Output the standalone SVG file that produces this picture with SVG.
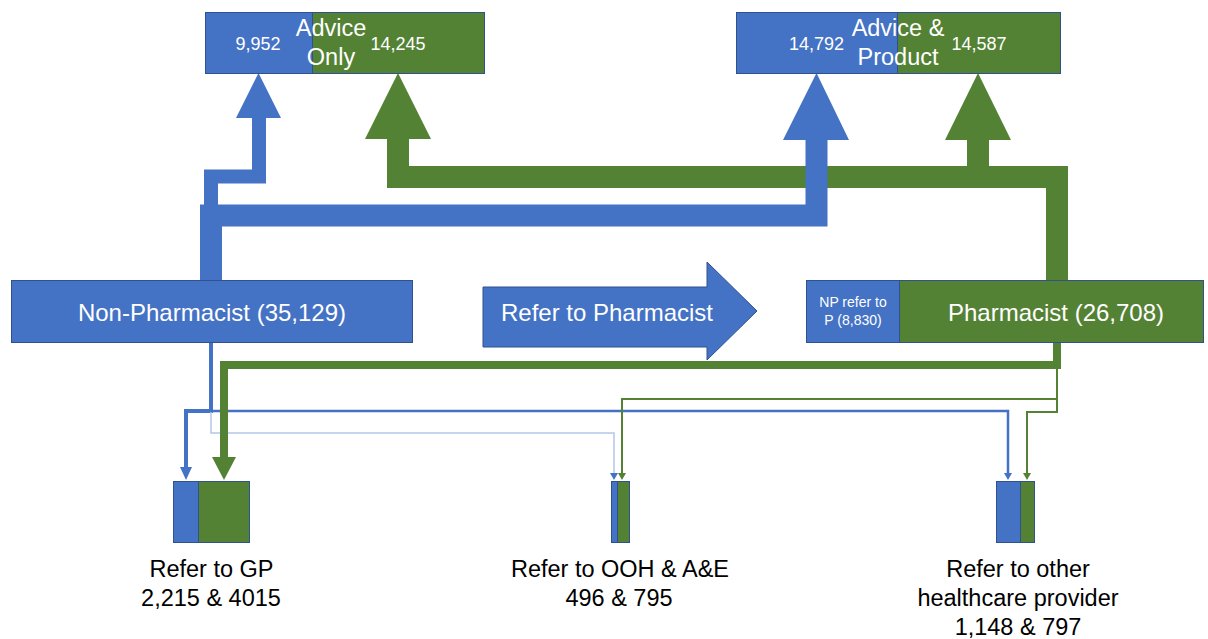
<svg xmlns="http://www.w3.org/2000/svg" width="1208" height="639" viewBox="0 0 1208 639">
<style>
.b{fill:#4472C4;stroke:#2F528F;stroke-width:1}
.g{fill:#548235;stroke:#2F528F;stroke-width:1}
.t{font-family:"Liberation Sans",Arial,sans-serif;fill:#fff;text-anchor:middle}
.k{font-family:"Liberation Sans",Arial,sans-serif;fill:#000;text-anchor:middle;font-size:23.5px}
.cb{fill:none;stroke:#4472C4;stroke-linejoin:miter;stroke-linecap:butt}
.cg{fill:none;stroke:#548235;stroke-linejoin:miter;stroke-linecap:butt}
.cl{fill:none;stroke:#B4C7E7;stroke-width:1.5}
.hb{fill:#4472C4}
.hg{fill:#548235}
</style>
<rect width="1208" height="639" fill="#fff"/>
<g id="connectors">
  <!-- top: pharmacist to advice (green, under blue) -->
  <path class="cg" stroke-width="22" d="M1057,281 V177 H398 V139"/>
  <path class="cg" stroke-width="22" d="M978,177 V140"/>
  <polygon class="hg" points="365,139 431,139 398,73"/>
  <polygon class="hg" points="945,140 1011,140 978,73"/>
  <!-- top: non-pharmacist to advice (blue) -->
  <path class="cb" stroke-width="14" d="M211,205 V176.5 H259 V118"/>
  <polygon class="hb" points="236,118 281,118 258.5,73"/>
  <path class="cb" stroke-width="22" d="M211,281 V215.5 H816.5 V140"/>
  <polygon class="hb" points="783,140 849,140 816.5,73"/>
  <!-- bottom: non-pharmacist referrals (blue) -->
  <path class="cb" stroke-width="4" d="M211,342 V411 H186 V467"/>
  <polygon class="hb" points="180,467 192,467 186,480"/>
  <path class="cb" stroke-width="2.5" d="M211,411 H1008 V473"/>
  <polygon class="hb" points="1004,473 1012,473 1008,480"/>
  <path class="cl" d="M211,412 V433 H614 V473"/>
  <polygon points="610,473 618,473 614,480" fill="#4472C4"/>
  <!-- bottom: pharmacist referrals (green) -->
  <path class="cg" stroke-width="8" d="M1057,342 V365 H224 V457"/>
  <polygon class="hg" points="212,457 236,457 224,480"/>
  <path class="cg" stroke-width="2" d="M1057,369 V412 H1027 V473"/>
  <polygon class="hg" points="1023,473 1031,473 1027,480"/>
  <path class="cg" stroke-width="2" d="M1057,399 H622 V473"/>
  <polygon class="hg" points="618,473 626,473 622,480"/>
</g>
<g id="advice-only">
  <rect class="b" x="205.5" y="12.5" width="107" height="61"/>
  <rect class="g" x="312.5" y="12.5" width="172" height="61"/>
  <text class="t" x="331" y="36" font-size="23.5">Advice</text>
  <text class="t" x="331" y="65" font-size="23.5">Only</text>
  <text class="t" x="258" y="50" font-size="18">9,952</text>
  <text class="t" x="398" y="50" font-size="18">14,245</text>
</g>
<g id="advice-product">
  <rect class="b" x="736.5" y="12.5" width="161" height="61"/>
  <rect class="g" x="897.5" y="12.5" width="163" height="61"/>
  <text class="t" x="898" y="36" font-size="23.5">Advice &amp;</text>
  <text class="t" x="898" y="65" font-size="23.5">Product</text>
  <text class="t" x="816.5" y="50" font-size="18">14,792</text>
  <text class="t" x="979" y="50" font-size="18">14,587</text>
</g>
<g id="non-pharmacist">
  <rect class="b" x="11.5" y="280.5" width="401" height="62"/>
  <text class="t" x="212" y="320.5" font-size="24">Non-Pharmacist (35,129)</text>
</g>
<g id="refer-to-pharmacist">
  <polygon class="b" points="483,287 707,287 707,262 757,311 707,360 707,347 483,347"/>
  <text class="t" x="607" y="321" font-size="24">Refer to Pharmacist</text>
</g>
<g id="pharmacist">
  <rect class="b" x="806.5" y="280.5" width="93" height="62"/>
  <rect class="g" x="899.5" y="280.5" width="304" height="62"/>
  <text class="t" x="853" y="307" font-size="14">NP refer to</text>
  <text class="t" x="853" y="325" font-size="14">P (8,830)</text>
  <text class="t" x="1056" y="321" font-size="24">Pharmacist (26,708)</text>
</g>
<g id="refer-gp">
  <rect class="b" x="173.5" y="481.5" width="25" height="61"/>
  <rect class="g" x="198.5" y="481.5" width="51" height="61"/>
  <text class="k" x="211.5" y="577">Refer to GP</text>
  <text class="k" x="211" y="606">2,215 &amp; 4015</text>
</g>
<g id="refer-ooh">
  <rect class="b" x="611.5" y="481.5" width="6" height="61"/>
  <rect class="g" x="617.5" y="481.5" width="12" height="61"/>
  <text class="k" x="620" y="577">Refer to OOH &amp; A&amp;E</text>
  <text class="k" x="619" y="606">496 &amp; 795</text>
</g>
<g id="refer-other">
  <rect class="b" x="996.5" y="481.5" width="24" height="61"/>
  <rect class="g" x="1020.5" y="481.5" width="14" height="61"/>
  <text class="k" x="1018" y="577">Refer to other</text>
  <text class="k" x="1018" y="606">healthcare provider</text>
  <text class="k" x="1018" y="635">1,148 &amp; 797</text>
</g>
</svg>
